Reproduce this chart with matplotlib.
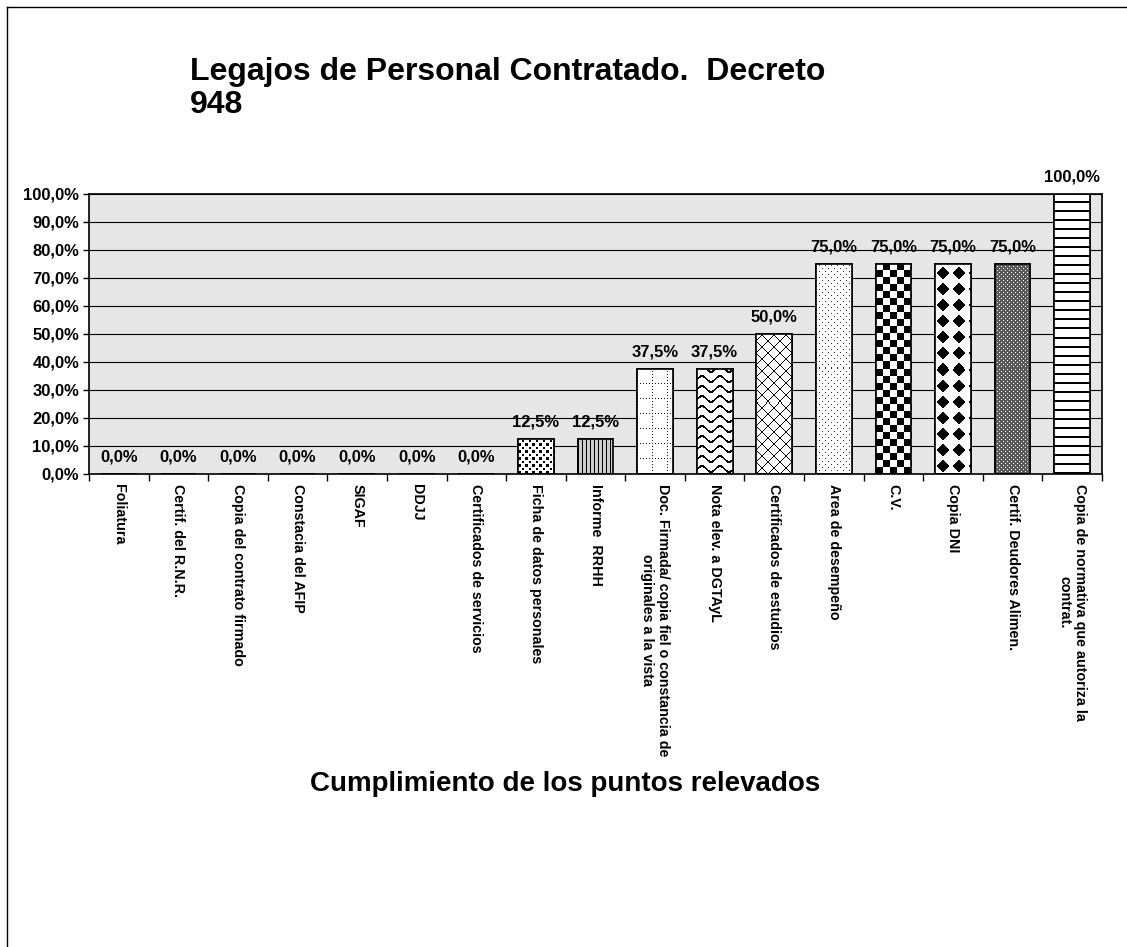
import numpy as np
import matplotlib.pyplot as plt
from matplotlib.lines import Line2D

plt.rcParams['font.family'] = ['Liberation Sans', 'DejaVu Sans']

categorias = [
    'Foliatura',
    'Certif. del R.N.R.',
    'Copia del contrato firmado',
    'Constacia del AFIP',
    'SIGAF',
    'DDJJ',
    'Certificados de servicios',
    'Ficha de datos personales',
    'Informe  RRHH',
    'Doc. Firmada/ copia fiel o constancia de\noriginales a la vista',
    'Nota elev. a DGTAyL',
    'Certificados de estudios',
    'Area de desempeño',
    'C.V.',
    'Copia DNI',
    'Certif. Deudores Alimen.',
    'Copia de normativa que autoriza la\ncontrat.',
]
valores = [0.0, 0.0, 0.0, 0.0, 0.0, 0.0, 0.0, 12.5, 12.5, 37.5, 37.5, 50.0, 75.0, 75.0, 75.0, 75.0, 100.0]
patrones = [None] * 7 + ['puntos_grandes', 'rayas_v', 'cuadricula', 'ondas', 'cruces',
                         'puntos', 'damero', 'rombos', 'gris_puntos', 'rayas_h']
ticks_y = np.arange(0, 101, 10)

titulo = 'Legajos de Personal Contratado.  Decreto\n948'
titulo_x = 'Cumplimiento de los puntos relevados'


def fmt(v):
    return f'{v:.1f}'.replace('.', ',') + '%'


def hacer_patron(nombre):
    # pequeños mosaicos en pixeles (0 = negro, 1 = blanco)
    if nombre == 'puntos_grandes':
        t = np.ones((7, 7))
        t[0:3, 0:3] = 0
        t[4:6, 4:6] = 0
    elif nombre == 'rayas_v':
        t = np.full((1, 4), 0.8)
        t[:, 0] = 0
    elif nombre == 'cuadricula':
        t = np.ones((15, 15))
        t[0, ::3] = 0.1
        t[::3, 0] = 0.1
    elif nombre == 'ondas':
        t = np.ones((10, 18))
        i, j = np.indices(t.shape)
        yc = 4.5 + 3 * np.sin(2 * np.pi * j / 18)
        t[np.abs(i - yc) < 1.1] = 0
    elif nombre == 'cruces':
        n = 12
        i, j = np.indices((n, n))
        t = np.where((i == j) | (i + j == n - 1), 0.0, 1.0)
    elif nombre == 'puntos':
        t = np.ones((6, 6))
        t[0, 0] = 0.2
        t[3, 3] = 0.2
    elif nombre == 'damero':
        t = np.ones((14, 14))
        t[:7, :7] = 0
        t[7:, 7:] = 0
    elif nombre == 'rombos':
        n = 16
        i, j = np.indices((n, n))
        d = np.abs(i - 7.5) + np.abs(j - 7.5)
        t = np.where(d < 6.5, 0.0, 1.0)
    elif nombre == 'gris_puntos':
        t = np.full((4, 4), 0.35)
        t[0, 0] = 1
        t[2, 2] = 1
    else:  # rayas_h
        t = np.ones((9, 1))
        t[0:2, 0] = 0
    return t


fig = plt.figure(figsize=(11.27, 9.47), dpi=100)
ax = fig.add_axes([89 / 1127, 1 - 474 / 947, (1102 - 89) / 1127, (474 - 194) / 947])
ax.set_facecolor('#e6e6e6')

x = np.arange(len(categorias))
ancho = 0.6
barras = ax.bar(x, valores, ancho, color='white', edgecolor='black', linewidth=1.2, zorder=2)
ax.set_xlim(-0.5, len(categorias) - 0.5)
ax.set_ylim(0, 100)

for rect, nombre in zip(barras, patrones):
    h = rect.get_height()
    if nombre is None or h == 0:
        continue
    x0 = rect.get_x()
    w = rect.get_width()
    p0 = ax.transData.transform((x0, 0))
    p1 = ax.transData.transform((x0 + w, h))
    wpx, hpx = p1[0] - p0[0], p1[1] - p0[1]
    tile = hacer_patron(nombre)
    th, tw = tile.shape
    ry = int(np.ceil(hpx / th))
    rx = int(np.ceil(wpx / tw))
    img = np.tile(tile, (ry, rx))
    x1 = x0 + rx * tw * w / wpx
    y1 = ry * th * h / hpx
    im = ax.imshow(img, cmap='gray', vmin=0, vmax=1, extent=[x0, x1, 0, y1],
                   origin='lower', interpolation='nearest', aspect='auto', zorder=2.5)
    im.set_clip_path(rect)

ax.bar(x, valores, ancho, fill=False, edgecolor='black', linewidth=1.2, zorder=3)
ax.set_xlim(-0.5, len(categorias) - 0.5)
ax.set_ylim(0, 100)

ax.set_yticks(ticks_y)
ax.set_yticklabels([fmt(v) for v in ticks_y], fontsize=12, fontweight='bold')
ax.yaxis.grid(True, color='black', linewidth=0.8)
ax.set_axisbelow(True)
ax.tick_params(axis='y', direction='out', length=4, width=1, pad=3)

ax.set_xticks(x)
ax.set_xticklabels(categorias, rotation=270, ha='center', va='top', multialignment='center',
                   fontsize=10.3, fontweight='bold')
ax.set_xticks(np.arange(-0.5, len(categorias), 1), minor=True)
ax.tick_params(axis='x', which='major', length=0, pad=7)
ax.tick_params(axis='x', which='minor', direction='out', length=5, width=1)

for s in ax.spines.values():
    s.set_linewidth(1.2)

for i, v in enumerate(valores):
    ax.annotate(fmt(v), (i, v), xytext=(0, 7), textcoords='offset points', ha='center', va='bottom',
                fontsize=12, fontweight='bold', annotation_clip=False)

fig.text(190 / 1127, 1 - 57 / 947, titulo, fontsize=23, fontweight='bold', ha='left', va='top',
         linespacing=1.12)
fig.text(565 / 1127, 1 - 784 / 947, titulo_x, fontsize=20, fontweight='bold', ha='center', va='center')

# borde del area del grafico (solo visible arriba e izquierda)
fig.add_artist(Line2D([7 / 1127, 7 / 1127], [0, 1 - 7 / 947], color='black', linewidth=1))
fig.add_artist(Line2D([7 / 1127, 1], [1 - 7 / 947, 1 - 7 / 947], color='black', linewidth=1))

fig.savefig('out.png', dpi=100)
